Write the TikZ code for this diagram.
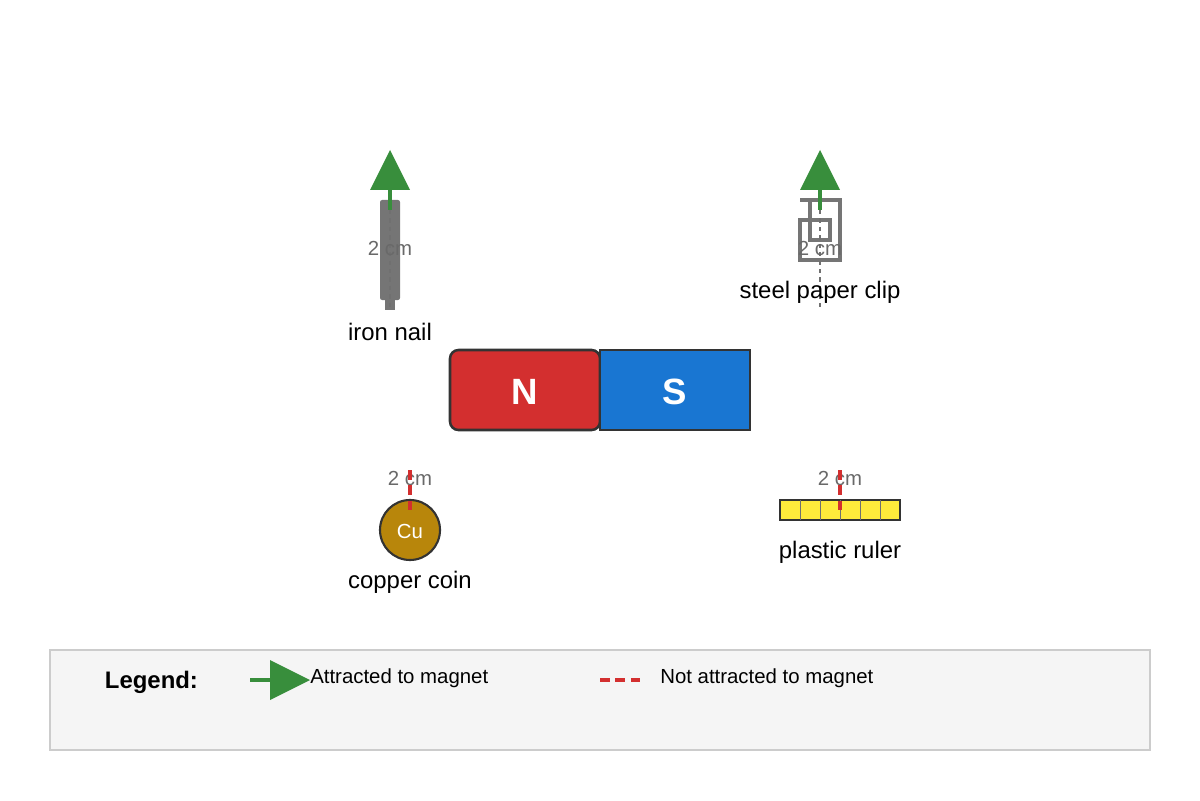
\documentclass[tikz,border=0pt]{standalone}
\usepackage{fontspec}
\setmainfont{Liberation Sans}
\usepackage{tikz}
\definecolor{nred}{HTML}{D32F2F}
\definecolor{sblue}{HTML}{1976D2}
\definecolor{agreen}{HTML}{388E3C}
\definecolor{metal}{HTML}{757575}
\definecolor{copper}{HTML}{B8860B}
\definecolor{ruler}{HTML}{FFEB3B}
\definecolor{edge}{HTML}{333333}
\tikzset{
    label/.style={font=\fontsize{17}{20}\selectfont, text=black},
    dist/.style={font=\fontsize{14.5}{17}\selectfont, text=metal!90!black},
    attract/.style={agreen, line width=2.8pt},
    repel/.style={nred, line width=2.8pt, dash pattern=on 7pt off 4pt},
    guide/.style={edge!70, line width=0.9pt, dash pattern=on 3pt off 3pt},
}
\begin{document}
\begin{tikzpicture}[x=0.025cm, y=-0.025cm]
    \useasboundingbox (0,0) rectangle (1200,800);

    % magnet
    \draw[edge, line width=1.8pt, fill=nred, rounded corners=6pt] (450,350) rectangle (600,430);
    \draw[edge, line width=1.8pt, fill=sblue] (600,350) rectangle (750,430);
    \node[text=white, font=\fontsize{26}{30}\selectfont\bfseries] (north) at (525,392) {N};
    \node[text=white, font=\fontsize{26}{30}\selectfont\bfseries] (south) at (675,392) {S};

    % iron nail
    \fill[metal, rounded corners=1.5pt] (380,200) rectangle (400,300);
    \fill[metal] (385,300) rectangle (395,310);
    \draw[guide] (390,210) -- (390,310);
    \draw[attract] (390,210) -- (390,188);
    \fill[agreen] (370,190) -- (390,150) -- (410,190) -- cycle;
    \node[dist] (naildist) at (390,248) {2 cm};
    \node[label] (nail) at (390,332) {iron nail};

    % steel paper clip
    \draw[metal, line width=2.5pt] (800,200) -- (840,200) -- (840,260) -- (800,260) -- (800,220)
        -- (830,220) -- (830,240) -- (810,240) -- (810,200);
    \draw[guide] (820,210) -- (820,310);
    \draw[attract] (820,210) -- (820,188);
    \fill[agreen] (800,190) -- (820,150) -- (840,190) -- cycle;
    \node[dist] (clipdist) at (820,248) {2 cm};
    \node[label] (clip) at (820,292) {steel paper clip};

    % copper coin
    \draw[edge, line width=1.5pt, fill=copper] (410,530) circle (30);
    \node[text=white, font=\fontsize{14.5}{17}\selectfont] (cu) at (410,531) {Cu};
    \node[dist] (coindist) at (410,478) {2 cm};
    \draw[repel] (410,470) -- (410,510);
    \node[label] (coin) at (410,582) {copper coin};

    % plastic ruler
    \draw[edge, line width=1.5pt, fill=ruler] (780,500) rectangle (900,520);
    \foreach \i in {800,820,...,880}
        \draw[edge!70, line width=0.6pt] (\i,500) -- (\i,520);
    \node[dist] (rulerdist) at (840,478) {2 cm};
    \draw[repel] (840,470) -- (840,510);
    \node[label] (plastic) at (840,552) {plastic ruler};

    % legend
    \draw[black!20, line width=1.2pt, fill=black!4] (50,650) rectangle (1150,750);
    \node[anchor=west, font=\fontsize{17}{20}\selectfont\bfseries] (legend) at (100,682) {Legend:};
    \draw[attract] (250,680) -- (272,680);
    \fill[agreen] (270,660) -- (310,680) -- (270,700) -- cycle;
    \node[anchor=west, inner sep=0pt, font=\fontsize{14.5}{17}\selectfont] (yes) at (310,678) {Attracted to magnet};
    \draw[repel] (600,680) -- (640,680);
    \node[anchor=west, inner sep=0pt, font=\fontsize{14.5}{17}\selectfont] (no) at (660,678) {Not attracted to magnet};
\end{tikzpicture}
\end{document}
